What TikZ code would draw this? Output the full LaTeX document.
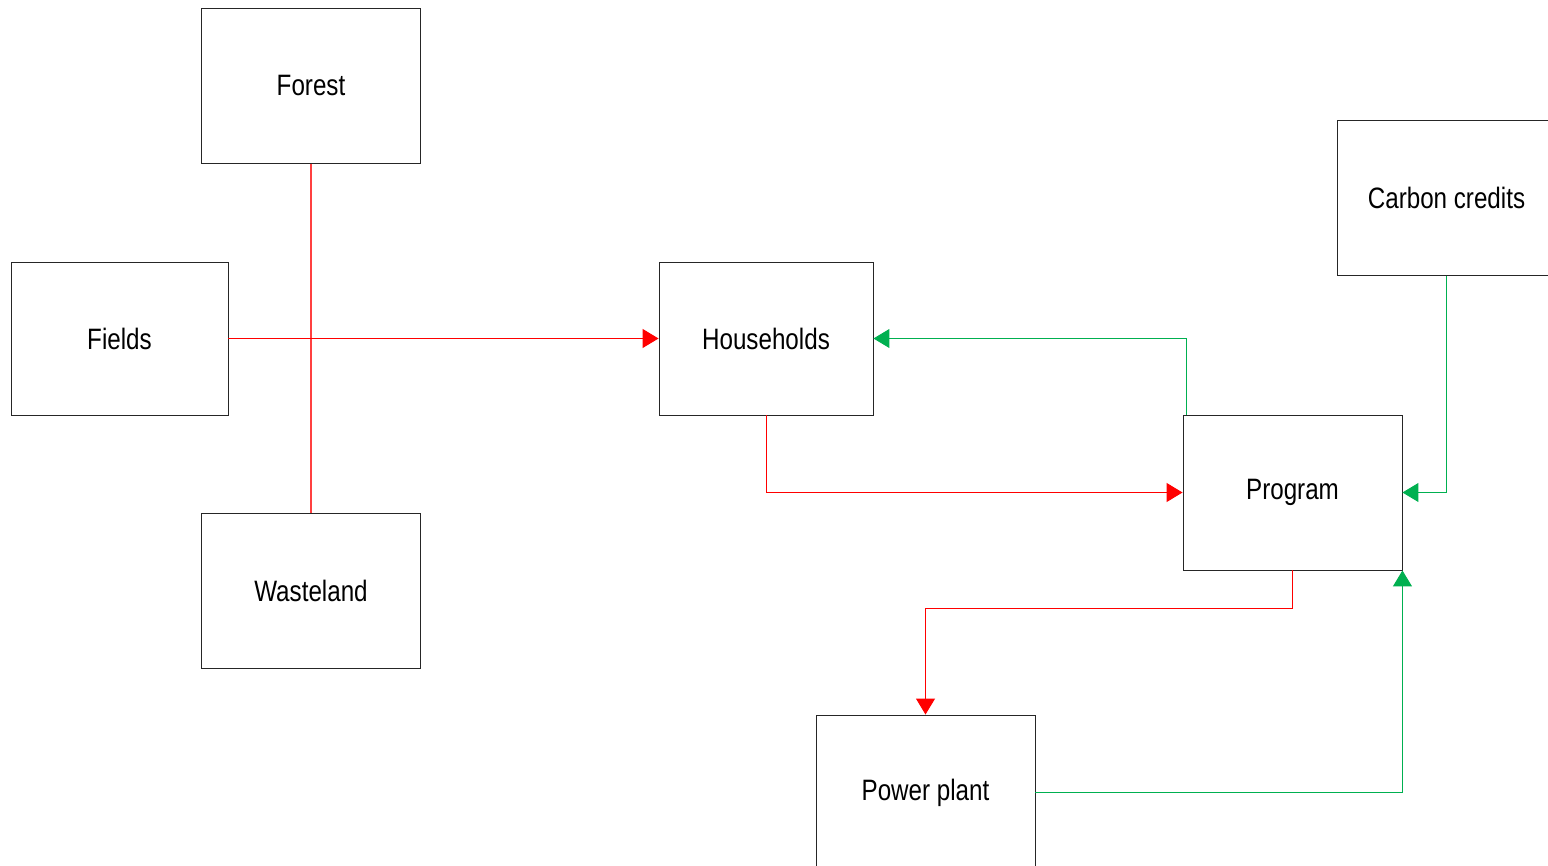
\documentclass[tikz,border=0pt]{standalone}
\usepackage{fontspec}
\setmainfont{Liberation Sans}[FakeStretch=0.82]
\usetikzlibrary{arrows.meta}
\definecolor{lred}{HTML}{FF0000}
\definecolor{lgreen}{HTML}{00B050}
\begin{document}
\begin{tikzpicture}[x=1pt,y=-1pt,
  box/.style={draw=black!85, line width=0.9pt, fill=white, minimum width=219pt, minimum height=155pt, inner sep=0pt, font=\fontsize{29.5}{32}\selectfont},
  redline/.style={draw=lred, color=lred, line width=1pt},
  greenline/.style={draw=lgreen, color=lgreen, line width=1pt},
  tip/.style={-{Triangle[length=16pt,width=19pt]}}]
\useasboundingbox (0,0) rectangle (1548,866);
\clip (0,0) rectangle (1548,866);
\node[box] (forest) at (311,86) {Forest};
\node[box, minimum width=217pt, minimum height=153pt] (fields) at (119.5,338.5) {Fields};
\node[box] (waste) at (311,590.5) {Wasteland};
\node[box, minimum width=214pt, minimum height=153pt] (house) at (766,338.5) {Households};
\node[box] (program) at (1292.5,492.5) {Program};
\node[box] (carbon) at (1446.5,198) {Carbon credits};
\node[box] (power) at (925.5,792.5) {Power plant};
\draw[redline, line width=1.2pt, lred!75] (forest.south) -- (waste.north);
\draw[redline, tip] (fields.east) -- (house.west);
\draw[redline, tip] (house.south) |- (program.west);
\draw[greenline, tip] ([xshift=4pt]program.north west) |- (house.east);
\draw[greenline, tip] (carbon.south) |- (program.east);
\draw[redline, tip] (program.south) -- ++(0,38) -| (power.north);
\draw[greenline, tip] (power.east) -| (program.south east);
\end{tikzpicture}
\end{document}
